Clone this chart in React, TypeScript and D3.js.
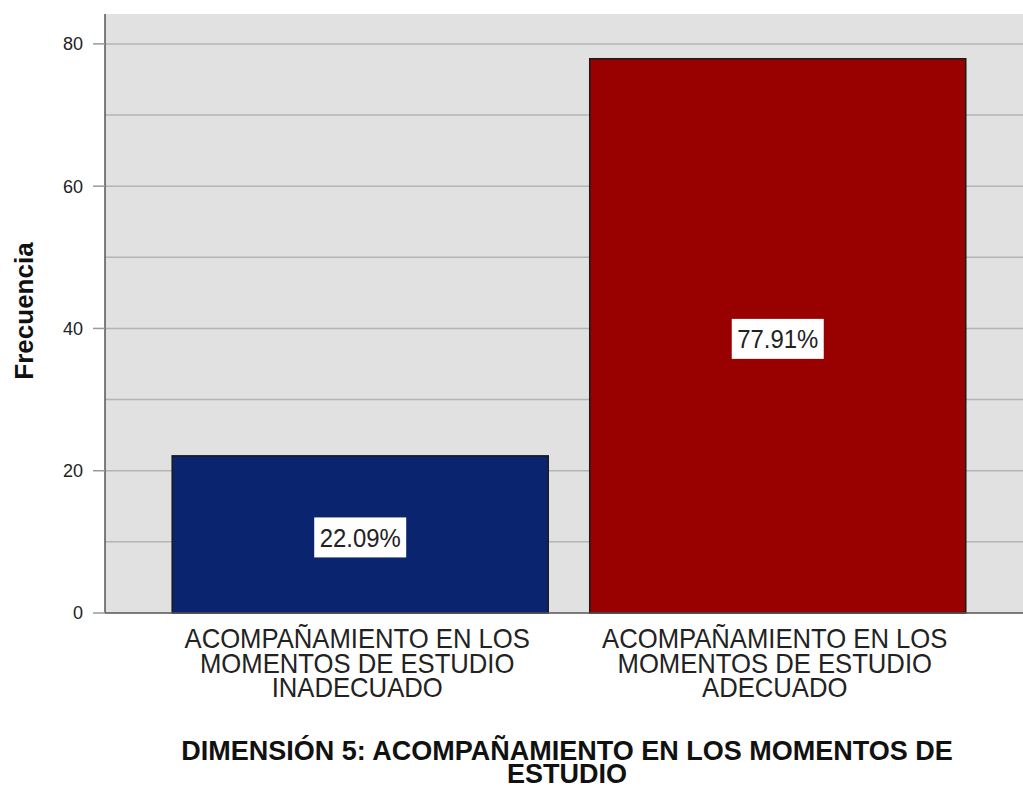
import * as d3 from 'd3'
import { useEffect, useRef } from 'react'

// Chart data
const categoryLines = [
    ['ACOMPAÑAMIENTO EN LOS', 'MOMENTOS DE ESTUDIO', 'INADECUADO'],
    ['ACOMPAÑAMIENTO EN LOS', 'MOMENTOS DE ESTUDIO', 'ADECUADO'],
]
const categories = ['INADECUADO', 'ADECUADO']
const frequencies = [22.09, 77.91]
const percentLabels = ['22.09%', '77.91%']
const barColors = ['#0b2470', '#990000']
const yTicks = [0, 20, 40, 60, 80]
const gridValues = [10, 20, 30, 40, 50, 60, 70, 80]
const titleLines = ['DIMENSIÓN 5: ACOMPAÑAMIENTO EN LOS MOMENTOS DE', 'ESTUDIO']
const yAxisTitle = 'Frecuencia'

const FONT = '"Liberation Sans", Arial, sans-serif'

export default function App() {
    const svgRef = useRef<SVGSVGElement>(null)
    const width = 1023
    const height = 787

    useEffect(() => {
        if (!svgRef.current) return
        document.body.style.margin = '0'

        const svg = d3.select(svgRef.current)
        svg.selectAll('*').remove()

        const plot = { left: 105, right: 1023, top: 14, bottom: 613 }

        const x = d3
            .scaleBand()
            .domain(categories)
            .range([plot.left, plot.right])
            .paddingInner(0.0994)
            .paddingOuter(0.149)
            .align(0.54)

        const y = d3
            .scaleLinear()
            .domain([0, 84.2])
            .range([plot.bottom, plot.top])

        // plot background
        svg.append('rect')
            .attr('x', plot.left)
            .attr('y', plot.top)
            .attr('width', plot.right - plot.left)
            .attr('height', plot.bottom - plot.top)
            .attr('fill', '#e1e1e1')

        // gridlines
        svg.selectAll('line.grid')
            .data(gridValues)
            .join('line')
            .attr('class', 'grid')
            .attr('x1', plot.left)
            .attr('x2', plot.right)
            .attr('y1', (d) => y(d))
            .attr('y2', (d) => y(d))
            .attr('stroke', '#b4b4b4')
            .attr('stroke-width', 1.5)

        // bars
        svg.selectAll('rect.bar')
            .data(frequencies)
            .join('rect')
            .attr('class', 'bar')
            .attr('x', (d, i) => x(categories[i]) as number)
            .attr('y', (d) => y(d))
            .attr('width', x.bandwidth())
            .attr('height', (d) => y(0) - y(d))
            .attr('fill', (d, i) => barColors[i])
            .attr('stroke', '#1a1a1a')
            .attr('stroke-width', 1.5)

        // value labels
        frequencies.forEach((v, i) => {
            const cx = (x(categories[i]) as number) + x.bandwidth() / 2
            const cy = (y(v) + y(0)) / 2 + 3
            svg.append('rect')
                .attr('x', cx - 46)
                .attr('y', cy - 20)
                .attr('width', 92)
                .attr('height', 40)
                .attr('fill', '#ffffff')
            svg.append('text')
                .attr('transform', `translate(${cx}, ${cy}) scale(0.92, 1)`)
                .attr('dy', '0.36em')
                .attr('text-anchor', 'middle')
                .attr('font-family', FONT)
                .attr('font-size', 26)
                .attr('fill', '#222')
                .text(percentLabels[i])
        })

        // axis lines
        svg.append('line')
            .attr('x1', plot.left)
            .attr('x2', plot.left)
            .attr('y1', plot.top)
            .attr('y2', plot.bottom)
            .attr('stroke', '#555')
            .attr('stroke-width', 1.5)
        svg.append('line')
            .attr('x1', plot.left)
            .attr('x2', plot.right)
            .attr('y1', plot.bottom)
            .attr('y2', plot.bottom)
            .attr('stroke', '#555')
            .attr('stroke-width', 1.5)

        // y ticks
        const ticks = svg.append('g')
        yTicks.forEach((t) => {
            ticks.append('line')
                .attr('x1', plot.left - 12)
                .attr('x2', plot.left)
                .attr('y1', y(t))
                .attr('y2', y(t))
                .attr('stroke', '#999')
                .attr('stroke-width', 1.5)
            ticks.append('text')
                .attr('x', plot.left - 22)
                .attr('y', y(t))
                .attr('dy', '0.36em')
                .attr('text-anchor', 'end')
                .attr('font-family', FONT)
                .attr('font-size', 18)
                .attr('fill', '#222')
                .text(t)
        })

        // y axis title
        svg.append('text')
            .attr('transform', `translate(33, 311) rotate(-90)`)
            .attr('text-anchor', 'middle')
            .attr('font-family', FONT)
            .attr('font-weight', 'bold')
            .attr('font-size', 26)
            .attr('fill', '#111')
            .text(yAxisTitle)

        // category labels (tall, slightly condensed text)
        categoryLines.forEach((lines, i) => {
            const cx = (x(categories[i]) as number) + x.bandwidth() / 2 - 3
            lines.forEach((line, j) => {
                svg.append('text')
                    .attr('transform', `translate(${cx}, ${648 + j * 24.5}) scale(0.9, 1)`)
                    .attr('text-anchor', 'middle')
                    .attr('font-family', FONT)
                    .attr('font-size', 28.5)
                    .attr('fill', '#222')
                    .text(line)
            })
        })

        // x axis title
        titleLines.forEach((line, j) => {
            svg.append('text')
                .attr('x', 567)
                .attr('y', 759.5 + j * 23)
                .attr('text-anchor', 'middle')
                .attr('font-family', FONT)
                .attr('font-weight', 'bold')
                .attr('font-size', 27)
                .attr('fill', '#111')
                .text(line)
        })
    }, [])

    return (
        <svg
            ref={svgRef}
            width={width}
            height={height}
            style={{ display: 'block', background: '#fff' }}
        />
    )
}
